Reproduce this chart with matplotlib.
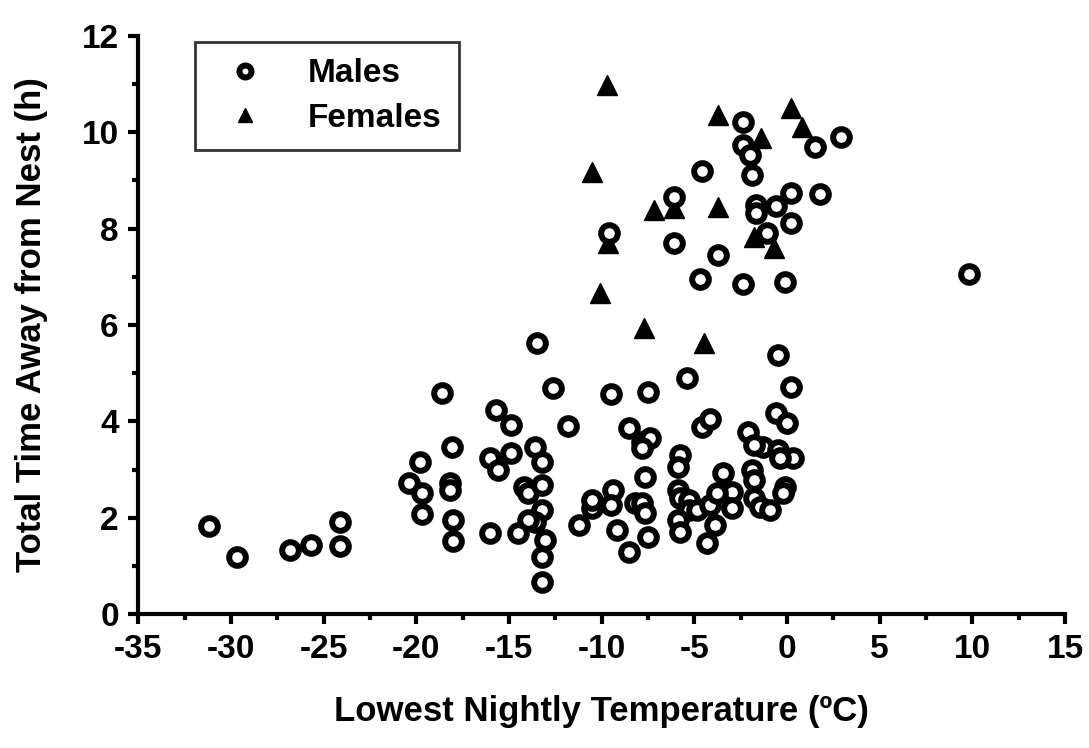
import matplotlib
matplotlib.use('Agg')
import matplotlib.pyplot as plt
from matplotlib.ticker import MultipleLocator

plt.rcParams['font.family'] = ['Liberation Sans', 'DejaVu Sans']
plt.rcParams['font.weight'] = 'bold'
plt.rcParams['axes.labelweight'] = 'bold'
plt.rcParams['axes.unicode_minus'] = False

males_x = [-31.2, -29.7, -26.8, -25.7, -24.1, -24.1, -20.4, -19.8, -19.7, -19.7,
           -18.6, -18.1, -18.2, -18.2, -18.0, -18.0, -16.0, -15.6, -14.9, -15.7,
           -14.9, -13.6, -13.2, -14.2, -14.0, -13.2, -13.2, -13.6, -14.0, -14.5,
           -13.05, -13.2, -13.2, -16.0, -13.5, -12.6, -11.8, -11.2, -10.5, -10.5,
           -9.4, -9.5, -9.2, -8.5, -9.5, -8.5, -7.8, -7.4, -7.8, -8.2,
           -7.8, -7.65, -7.5, -7.65, -7.5, -5.4, -4.6, -4.15, -5.8, -5.9,
           -5.9, -5.8, -5.3, -5.3, -4.85, -5.9, -5.8, -4.15, -3.9, -4.3,
           -3.45, -2.96, -2.96, -3.8, -0.5, 0.2, -0.6, 0.0, -2.1, -1.3,
           -1.8, -0.5, 0.3, -0.4, -1.9, -1.8, -1.8, -1.45, -0.9, -0.1,
           -0.2, -2.4, -2.4, -2.0, -1.9, 1.5, 2.9, -4.6, -6.1, -9.6,
           -6.1, -3.7, -4.7, -2.4, -0.1, 0.2, 1.8, -0.6, -1.7, -1.7,
           0.2, -1.1, 9.8]
males_y = [1.83, 1.18, 1.33, 1.43, 1.91, 1.41, 2.72, 3.15, 2.51, 2.07,
           4.59, 3.46, 2.72, 2.57, 1.95, 1.51, 3.24, 2.99, 3.34, 4.23,
           3.92, 3.47, 3.15, 2.63, 2.51, 2.68, 2.16, 1.91, 1.95, 1.68,
           1.54, 1.18, 0.66, 1.68, 5.63, 4.69, 3.90, 1.85, 2.20, 2.37,
           2.57, 2.26, 1.74, 1.29, 4.56, 3.86, 3.57, 3.65, 3.44, 2.30,
           2.30, 2.10, 1.60, 2.84, 4.61, 4.90, 3.88, 4.05, 3.30, 3.05,
           2.57, 2.41, 2.37, 2.16, 2.16, 1.95, 1.70, 2.26, 1.85, 1.47,
           2.93, 2.53, 2.20, 2.51, 5.37, 4.71, 4.17, 3.96, 3.78, 3.47,
           3.50, 3.40, 3.24, 3.24, 2.99, 2.78, 2.41, 2.22, 2.16, 2.63,
           2.51, 10.21, 9.73, 9.52, 9.11, 9.69, 9.90, 9.19, 8.65, 7.90,
           7.70, 7.45, 6.95, 6.85, 6.89, 8.73, 8.71, 8.46, 8.49, 8.32,
           8.11, 7.90, 7.05]

females_x = [-9.7, -3.7, 0.2, 0.8, -1.4, -10.5, -7.2, -6.1, -3.7, -1.8,
             -0.7, -9.65, -10.1, -7.7, -4.5]
females_y = [10.98, 10.35, 10.50, 10.10, 9.88, 9.17, 8.38, 8.42, 8.44, 7.82,
             7.59, 7.70, 6.66, 5.93, 5.62]

fig = plt.figure(figsize=(10.89, 7.48), dpi=100)
ax = fig.add_axes([0.127, 0.179, 0.851, 0.773])

ax.plot(females_x, females_y, linestyle='none', marker='^', ms=14,
        color='black', mec='black', label='Females', clip_on=False)
ax.plot(males_x, males_y, linestyle='none', marker='o', ms=12, mew=4.3,
        mfc='white', mec='black', label='Males', clip_on=False)

ax.set_xlim(-35, 15)
ax.set_ylim(0, 12)
ax.xaxis.set_major_locator(MultipleLocator(5))
ax.xaxis.set_minor_locator(MultipleLocator(2.5))
ax.yaxis.set_major_locator(MultipleLocator(2))
ax.yaxis.set_minor_locator(MultipleLocator(1))

for s in ['top', 'right']:
    ax.spines[s].set_visible(False)
for s in ['left', 'bottom']:
    ax.spines[s].set_linewidth(3)

ax.tick_params(which='major', direction='out', length=7, width=3,
               labelsize=24, pad=7)
ax.tick_params(which='minor', direction='out', length=4.5, width=3)

ax.set_xlabel('Lowest Nightly Temperature (ºC)', fontsize=25, labelpad=22)
ax.set_ylabel('Total Time Away from Nest (h)', fontsize=25, labelpad=24)

handles, labels = ax.get_legend_handles_labels()
leg = ax.legend(handles[::-1], labels[::-1], loc='upper left',
                bbox_to_anchor=(0.061, 0.99), borderaxespad=0, fontsize=24,
                frameon=True, fancybox=False, edgecolor='black',
                handletextpad=0.9, borderpad=0.5, labelspacing=0.4,
                handlelength=2.0, markerscale=0.72)
leg.get_frame().set_linewidth(2)

fig.savefig('out.png', dpi=100)
